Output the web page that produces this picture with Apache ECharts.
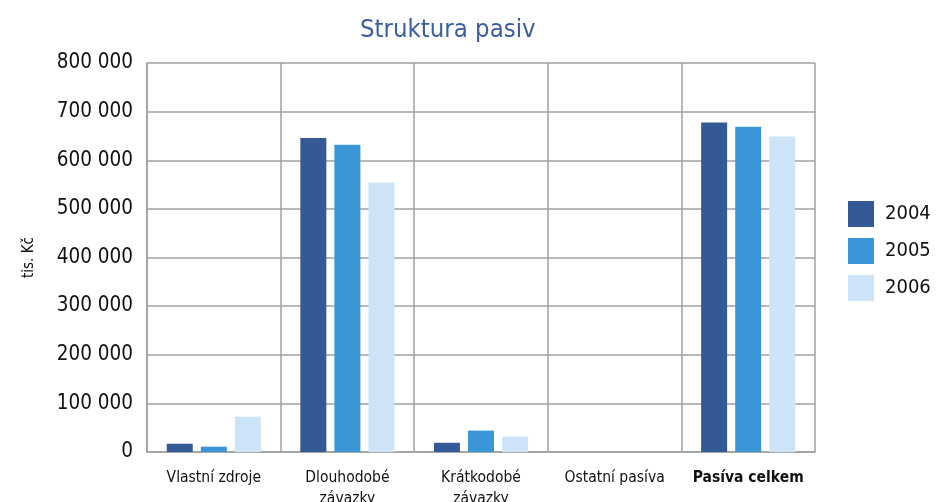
<!DOCTYPE html>
<html>
<head>
<meta charset="utf-8">
<script src="https://cdn.jsdelivr.net/npm/echarts@6/dist/echarts.min.js"></script>
<style>
html, body { margin: 0; padding: 0; background: #fff; }
#main { width: 938px; height: 502px; }
</style>
</head>
<body>
<div id="main"></div>
<script>
// chart data
var categories = ['Vlastní zdroje', 'Dlouhodobé\nzávazky', 'Krátkodobé\nzávazky', 'Ostatní pasíva', 'Pasíva celkem'];
var years = ['2004', '2005', '2006'];
var values2004 = [17000, 646000, 19000, 0, 677500];
var values2005 = [11000, 632000, 44000, 0, 669000];
var values2006 = [72500, 554000, 31500, 0, 649000];
var yTicks = [0, 100000, 200000, 300000, 400000, 500000, 600000, 700000, 800000];

var colors = ['#335a97', '#3a96d6', '#cde3f7'];
var font = '"DejaVu Sans Condensed", "DejaVu Sans", sans-serif';

var myChart = echarts.init(document.getElementById('main'));

function fmt(v) {
    return String(v).replace(/\B(?=(\d{3})+(?!\d))/g, ' ');
}

var seriesData = [values2004, values2005, values2006];

var option = {
    animation: false,
    color: colors,
    title: {
        text: 'Struktura pasiv',
        left: 355,
        top: 12,
        textStyle: {
            color: '#3b5ea0',
            fontSize: 25.5,
            fontWeight: 'normal',
            fontFamily: font
        }
    },
    legend: {
        orient: 'vertical',
        left: 843,
        top: 196,
        itemWidth: 26,
        itemHeight: 26,
        itemGap: 11,
        icon: 'rect',
        textStyle: {
            fontSize: 20,
            color: '#111',
            fontFamily: font,
            padding: [0, 0, 0, 6]
        },
        data: years
    },
    grid: {
        left: 147,
        right: 123,
        top: 63,
        bottom: 50,
        outerBoundsMode: 'none'
    },
    xAxis: {
        type: 'category',
        data: categories,
        axisLine: { lineStyle: { color: '#a0a0a0', width: 1.5 } },
        axisTick: { show: false },
        splitLine: { show: true, lineStyle: { color: '#a0a0a0', width: 1.5 } },
        axisLabel: {
            interval: 0,
            margin: 15,
            fontSize: 15.5,
            lineHeight: 21,
            color: '#111',
            fontFamily: font,
            formatter: function (v) {
                return v === 'Pasíva celkem' ? '{b|' + v + '}' : v;
            },
            rich: {
                b: { fontWeight: 'bold', fontSize: 15.5, fontFamily: font, color: '#111' }
            }
        }
    },
    yAxis: {
        type: 'value',
        min: yTicks[0],
        max: yTicks[yTicks.length - 1],
        interval: 100000,
        name: 'tis. Kč',
        nameLocation: 'middle',
        nameGap: 110,
        nameRotate: 90,
        nameTextStyle: { fontSize: 15, color: '#111', fontFamily: font },
        axisLine: { show: true, lineStyle: { color: '#a0a0a0', width: 1.5 } },
        axisTick: { show: false },
        splitLine: { lineStyle: { color: '#a0a0a0', width: 1.5 } },
        axisLabel: {
            fontSize: 20.5,
            color: '#111',
            margin: 14,
            fontFamily: font,
            formatter: fmt
        }
    },
    series: years.map(function (y, i) {
        return {
            name: y,
            type: 'bar',
            barWidth: 26,
            barGap: '31%',
            data: seriesData[i]
        };
    })
};

myChart.setOption(option);
</script>
</body>
</html>
